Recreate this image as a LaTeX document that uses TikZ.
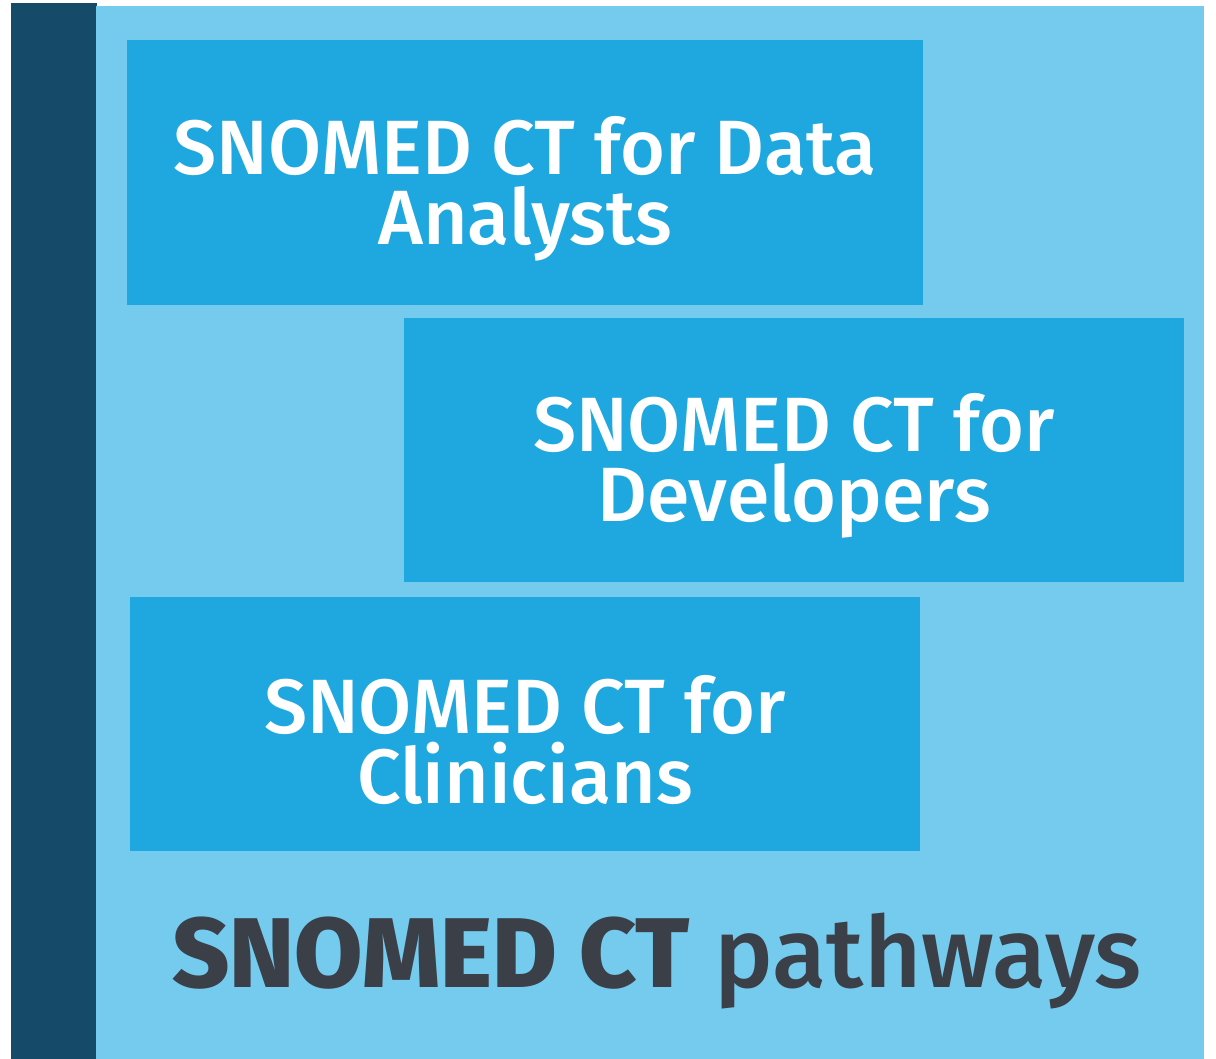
\documentclass[tikz,border=0pt]{standalone}
\usepackage{fontspec}
\setmainfont{Fira Sans}[BoldFont={Fira Sans SemiBold}]
\newfontfamily\medfont{Fira Sans Medium}
\usepackage{tikz}
\usetikzlibrary{positioning}

\definecolor{barblue}{RGB}{21,75,104}
\definecolor{paleblue}{RGB}{117,203,238}
\definecolor{boxblue}{RGB}{31,168,223}
\definecolor{titlegray}{RGB}{58,63,72}

\tikzset{
  pathbox/.style={fill=boxblue, draw=none, inner sep=0pt},
  pathtext/.style={inner sep=0pt, align=center, text=white, yshift=-16pt,
    font=\medfont\fontsize{77}{70}\selectfont},
}

\begin{document}
\begin{tikzpicture}[x=1pt, y=-1pt]
    \useasboundingbox (0,0) rectangle (1216,1059);

    % background panels
    \fill[barblue] (11,3) rectangle (97,1059);
    \fill[paleblue] (96,6) rectangle (1204,1059);

    % the three pathways
    \node[pathbox, minimum width=796pt, minimum height=265pt] (analysts) at (525,172.5) {};
    \node[pathbox, minimum width=780pt, minimum height=264pt] (developers) at (794,450) {};
    \node[pathbox, minimum width=790pt, minimum height=254pt] (clinicians) at (525,724) {};

    \node[pathtext] (analysts text) at (analysts.center) {SNOMED CT for Data\\Analysts};
    \node[pathtext] (developers text) at (developers.center) {SNOMED CT for\\Developers};
    \node[pathtext] (clinicians text) at (clinicians.center) {SNOMED CT for\\Clinicians};

    \node[anchor=base, text=titlegray, inner sep=0pt, font=\medfont\fontsize{99}{99}\selectfont] (title) at (657,987) {\textbf{SNOMED CT} pathways};

      % \draw[help lines](0,0) grid (1216,1059);
  \end{tikzpicture}
\end{document}
